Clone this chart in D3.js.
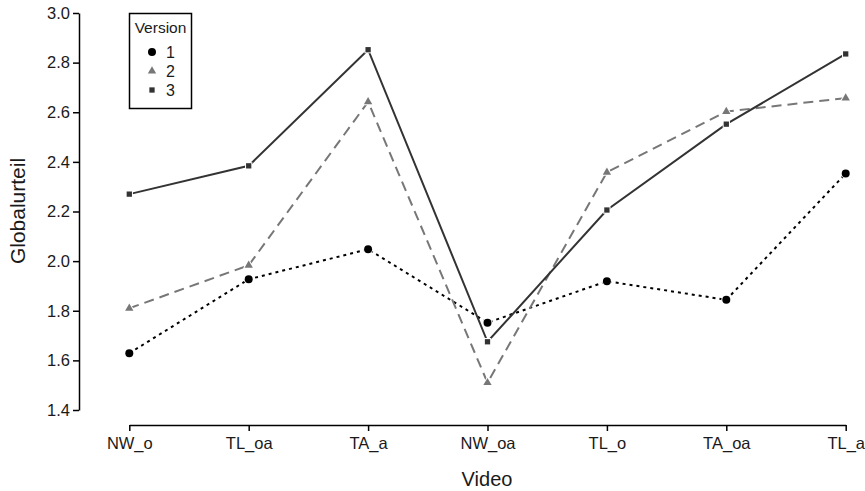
<!DOCTYPE html>
<html>
<head>
<meta charset="utf-8">
<script src="https://cdn.jsdelivr.net/npm/d3@7"></script>
<style>
  body { margin: 0; background: #fff; }
  text { font-family: "Liberation Sans", Arial, sans-serif; }
</style>
</head>
<body>
<script>
// data
var videos = ["NW_o", "TL_oa", "TA_a", "NW_oa", "TL_o", "TA_oa", "TL_a"];
var version1 = [1.629, 1.927, 2.048, 1.752, 1.919, 1.844, 2.353];
var version2 = [1.810, 1.983, 2.642, 1.510, 2.358, 2.603, 2.657];
var version3 = [2.270, 2.384, 2.852, 1.675, 2.206, 2.552, 2.835];
var yTicks = [1.4, 1.6, 1.8, 2.0, 2.2, 2.4, 2.6, 2.8, 3.0];
var versionNames = ["1", "2", "3"];

var W = 865, H = 491;

var svg = d3.select("body").append("svg")
    .attr("width", W)
    .attr("height", H);

var x = d3.scalePoint().domain(videos).range([129.3, 845.7]);
var y = d3.scaleLinear().domain([1.4, 3.0]).range([410, 13]);

// axes
var xAxis = svg.append("g")
    .attr("transform", "translate(0,425)")
    .call(d3.axisBottom(x).tickSize(6).tickSizeOuter(0));
var yAxis = svg.append("g")
    .attr("transform", "translate(79,0)")
    .call(d3.axisLeft(y).tickValues(yTicks).tickSize(6).tickSizeOuter(0)
        .tickFormat(d3.format(".1f")));

[xAxis, yAxis].forEach(function(a) {
  a.select(".domain").attr("stroke", "#000").attr("stroke-width", 1.5);
  a.selectAll(".tick line").attr("stroke", "#000").attr("stroke-width", 1.5);
  a.selectAll(".tick text").attr("fill", "#1a1a1a").style("font-size", "16.5px")
    .style("font-family", "'Liberation Sans', Arial, sans-serif");
});
xAxis.selectAll(".tick text").attr("y", 10).attr("dy", "0.85em");
yAxis.selectAll(".tick text").attr("x", -9);

// axis titles
svg.append("text")
    .attr("x", 487).attr("y", 486)
    .attr("text-anchor", "middle")
    .attr("fill", "#1a1a1a")
    .style("font-size", "20px")
    .text("Video");
svg.append("text")
    .attr("transform", "translate(25,211) rotate(-90)")
    .attr("text-anchor", "middle")
    .attr("fill", "#1a1a1a")
    .style("font-size", "21px")
    .text("Globalurteil");

var series = [
  { vals: version1, color: "#000", dash: "3,4", width: 2, sym: d3.symbolCircle, size: 50 },
  { vals: version2, color: "#777", dash: "10,6", width: 2, sym: d3.symbolTriangle, size: 30 },
  { vals: version3, color: "#333", dash: null, width: 2, sym: d3.symbolSquare, size: 28 }
];

var line = d3.line()
    .x(function(d, i) { return x(videos[i]); })
    .y(function(d) { return y(d); });

series.forEach(function(s) {
  svg.append("path")
      .datum(s.vals)
      .attr("fill", "none")
      .attr("stroke", s.color)
      .attr("stroke-width", s.width)
      .attr("stroke-dasharray", s.dash)
      .attr("d", line);
});

series.forEach(function(s) {
  svg.selectAll(null)
      .data(s.vals)
    .enter().append("path")
      .attr("transform", function(d, i) { return "translate(" + x(videos[i]) + "," + y(d) + ")"; })
      .attr("d", d3.symbol().type(s.sym).size(s.size))
      .attr("fill", s.color)
      .attr("stroke", "#fff")
      .attr("stroke-width", 2)
      .attr("paint-order", "stroke");
});

// legend
var legend = svg.append("g");
legend.append("rect")
    .attr("x", 129.5).attr("y", 13.5)
    .attr("width", 62).attr("height", 95)
    .attr("fill", "#fff").attr("stroke", "#000").attr("stroke-width", 1.5);
legend.append("text")
    .attr("x", 160.5).attr("y", 33)
    .attr("text-anchor", "middle")
    .attr("fill", "#1a1a1a")
    .style("font-size", "15.5px")
    .text("Version");
versionNames.forEach(function(n, i) {
  var s = series[i];
  var yy = 52 + i * 19;
  legend.append("path")
      .attr("transform", "translate(152," + yy + ")")
      .attr("d", d3.symbol().type(s.sym).size(s.size))
      .attr("fill", s.color);
  legend.append("text")
      .attr("x", 166).attr("y", yy + 6)
      .attr("fill", "#1a1a1a")
      .style("font-size", "16px")
      .text(n);
});
</script>
</body>
</html>
